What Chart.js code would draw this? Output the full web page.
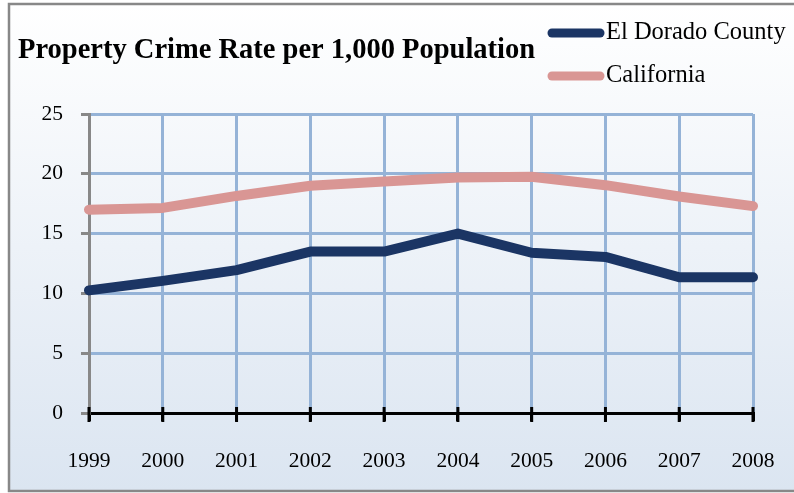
<!DOCTYPE html>
<html>
<head>
<meta charset="utf-8">
<script src="https://cdn.jsdelivr.net/npm/chart.js@4.4.1/dist/chart.umd.min.js"></script>
<style>
  html, body { margin: 0; padding: 0; background: #fff; }
</style>
</head>
<body>
<canvas id="graficoCrime" width="794" height="493"></canvas>
<script>
// dados
const anos = ['1999', '2000', '2001', '2002', '2003', '2004', '2005', '2006', '2007', '2008'];
const elDorado = [10.25, 11.05, 11.95, 13.5, 13.5, 15.0, 13.4, 13.05, 11.35, 11.35];
const california = [17.0, 17.15, 18.15, 19.0, 19.35, 19.7, 19.75, 19.05, 18.1, 17.3];
const ticksY = [0, 5, 10, 15, 20, 25];
const titulo = 'Property Crime Rate per 1,000 Population';

const fonte = '"Liberation Serif", "Times New Roman", serif';

// fundo com degrade e moldura
const fundo = {
    id: 'fundo',
    beforeDraw(chart) {
        const ctx = chart.ctx;
        ctx.save();
        ctx.fillStyle = '#ffffff';
        ctx.fillRect(0, 0, chart.width, chart.height);
        const grad = ctx.createLinearGradient(0, 4, 0, 491);
        grad.addColorStop(0, '#ffffff');
        grad.addColorStop(1, '#dbe5f1');
        ctx.fillStyle = grad;
        ctx.fillRect(9, 4, chart.width, 487);
        ctx.strokeStyle = '#888888';
        ctx.lineWidth = 2.5;
        ctx.strokeRect(9, 4, chart.width + 10, 487);
        ctx.restore();
    }
};

// titulo, legenda e marcas do eixo x
const extras = {
    id: 'extras',
    afterDraw(chart) {
        const ctx = chart.ctx;
        ctx.save();
        ctx.fillStyle = '#000';
        ctx.textBaseline = 'middle';
        ctx.font = 'bold 28.5px ' + fonte;
        ctx.fillText(titulo, 18, 51);

        ctx.font = '24.5px ' + fonte;
        chart.data.datasets.forEach((ds, i) => {
            const y = 33 + i * 43;
            ctx.strokeStyle = ds.borderColor;
            ctx.lineWidth = 9;
            ctx.lineCap = 'round';
            ctx.beginPath();
            ctx.moveTo(552, y);
            ctx.lineTo(600, y);
            ctx.stroke();
            ctx.fillStyle = '#000';
            ctx.fillText(ds.label, 606, y);
        });

        // marcas cruzando o eixo x
        const escalaX = chart.scales.x;
        const base = chart.chartArea.bottom;
        ctx.strokeStyle = '#000';
        ctx.lineWidth = 3;
        ctx.lineCap = 'butt';
        escalaX.ticks.forEach((t, i) => {
            const px = escalaX.getPixelForTick(i);
            ctx.beginPath();
            ctx.moveTo(px, base - 6);
            ctx.lineTo(px, base + 9);
            ctx.stroke();
        });
        ctx.restore();
    }
};

const grafico = new Chart(document.querySelector('#graficoCrime'), {
    type: 'line',
    data: {
        labels: anos,
        datasets: [
            {
                label: 'El Dorado County',
                data: elDorado,
                borderColor: '#1b3564',
                borderWidth: 10,
                pointRadius: 0,
                tension: 0,
                borderCapStyle: 'round',
                borderJoinStyle: 'round'
            },
            {
                label: 'California',
                data: california,
                borderColor: '#d99694',
                borderWidth: 10,
                pointRadius: 0,
                tension: 0,
                borderCapStyle: 'round',
                borderJoinStyle: 'round'
            }
        ]
    },
    options: {
        responsive: false,
        animation: false,
        devicePixelRatio: 1,
        layout: { padding: { left: 0, right: 41, top: 114, bottom: 0 } },
        plugins: {
            legend: { display: false },
            title: { display: false },
            tooltip: { enabled: false }
        },
        scales: {
            x: {
                offset: false,
                afterFit: scale => {
                    scale.height = 80;
                    scale.paddingLeft = 0;
                    scale.paddingRight = 0;
                },
                grid: {
                    color: ctx => ctx.index === 0 ? 'rgba(0,0,0,0)' : '#95b3d7',
                    lineWidth: 3,
                    tickColor: '#000',
                    tickWidth: 3,
                    tickLength: 8
                },
                border: { color: '#000', width: 3 },
                ticks: {
                    color: '#000',
                    padding: 27,
                    maxRotation: 0,
                    font: { family: fonte, size: 21.5 }
                }
            },
            y: {
                min: 0,
                max: 25,
                afterBuildTicks: scale => {
                    scale.ticks = ticksY.map(v => ({ value: v }));
                },
                afterFit: scale => { scale.width = 89; },
                grid: {
                    color: ctx => ctx.tick && ctx.tick.value === 0 ? 'rgba(0,0,0,0)' : '#95b3d7',
                    lineWidth: 3,
                    tickColor: '#888888',
                    tickWidth: 3,
                    tickLength: 8
                },
                border: { color: '#888888', width: 3 },
                ticks: {
                    color: '#000',
                    padding: 18,
                    font: { family: fonte, size: 21.5 }
                }
            }
        }
    },
    plugins: [fundo, extras]
});
</script>
</body>
</html>
